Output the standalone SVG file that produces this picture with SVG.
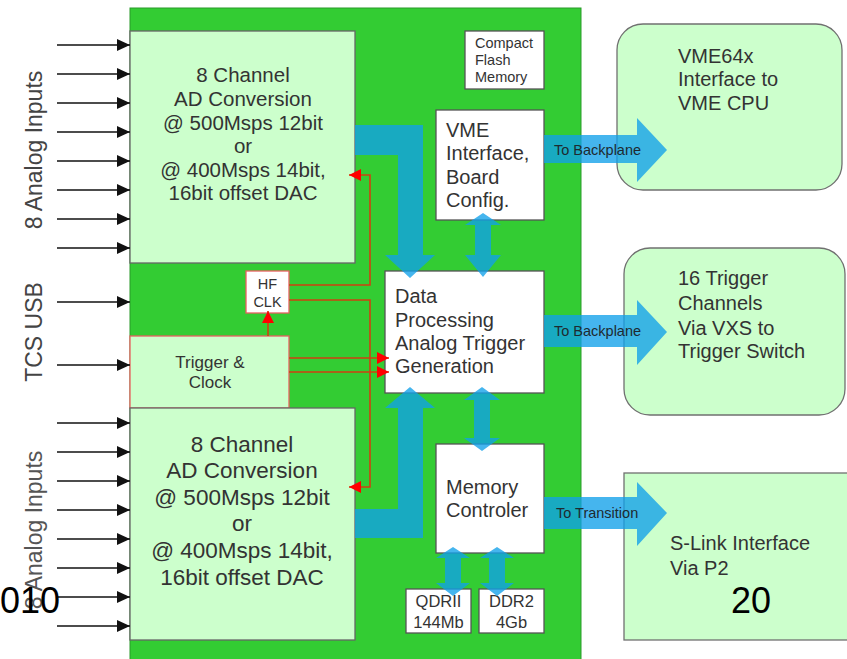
<svg xmlns="http://www.w3.org/2000/svg" width="847" height="659" viewBox="0 0 847 659">
<style>
text{font-family:"Liberation Sans",Arial,sans-serif;fill:#333}
.lg{fill:#ccffcc;stroke:#666;stroke-width:1.3}
.wb{fill:#fff;stroke:#555;stroke-width:1.3}
.rb{stroke:#e86060;stroke-width:1.3}
.t20{font-size:20px}
.t205{font-size:20.5px}
.t22{font-size:22.5px}
.c{text-anchor:middle}
.side{font-size:23px;fill:#444;text-anchor:middle}
.big{font-size:36px;fill:#000}
.blue{fill:rgb(17,160,233);fill-opacity:0.78}
.lbl{font-size:14.5px;fill:#1e2a30}
.in line{stroke:#111;stroke-width:1.6;marker-end:url(#ah)}
.red{stroke:#d04010;stroke-width:1.6;fill:none;marker-end:url(#rh)}
</style>
<defs>
<marker id="ah" markerUnits="userSpaceOnUse" markerWidth="14" markerHeight="12" refX="13" refY="6" orient="auto"><path d="M0,0 L13,6 L0,12 Z" fill="#111"/></marker>
<marker id="rh" markerUnits="userSpaceOnUse" markerWidth="13" markerHeight="12" refX="12" refY="6" orient="auto"><path d="M0,0 L12,6 L0,12 Z" fill="#ff0000"/></marker>
</defs>
<rect width="847" height="659" fill="#fff"/>
<g id="board"><rect x="130" y="8" width="451" height="660" fill="#33cc33" stroke="#2a9a2a" stroke-width="1"/></g>
<g id="labels">
<text class="side" transform="translate(42,150) rotate(-90)">8 Analog Inputs</text>
<text class="side" transform="translate(42,332) rotate(-90)">TCS USB</text>
<text class="side" transform="translate(42,530) rotate(-90)" style="fill:#555">8 Analog Inputs</text>
</g>
<g id="adc-top"><rect class="lg" x="130" y="31" width="225" height="232"/>
<text class="t205 c" x="243" y="82">8 Channel</text>
<text class="t205 c" x="243" y="106">AD Conversion</text>
<text class="t205 c" x="243" y="130">@ 500Msps 12bit</text>
<text class="t205 c" x="243" y="153">or</text>
<text class="t205 c" x="243" y="177">@ 400Msps 14bit,</text>
<text class="t205 c" x="243" y="200">16bit offset DAC</text></g>
<g id="hfclk"><rect class="rb" x="246" y="271" width="43" height="42" fill="#fff"/>
<text class="c" x="267.5" y="289" font-size="14.5">HF</text>
<text class="c" x="267.5" y="307" font-size="14.5">CLK</text></g>
<g id="trigger"><rect class="rb" x="130" y="336" width="159" height="72" fill="#ccffcc"/>
<text class="c" x="210" y="368" font-size="17">Trigger &amp;</text>
<text class="c" x="210" y="388" font-size="17">Clock</text></g>
<g id="adc-bottom"><rect class="lg" x="130" y="408" width="225" height="232"/>
<text class="t22 c" x="242" y="452">8 Channel</text>
<text class="t22 c" x="242" y="478">AD Conversion</text>
<text class="t22 c" x="242" y="505">@ 500Msps 12bit</text>
<text class="t22 c" x="242" y="531">or</text>
<text class="t22 c" x="242" y="558">@ 400Msps 14bit,</text>
<text class="t22 c" x="242" y="585">16bit offset DAC</text></g>
<g id="flash"><rect class="wb" x="465" y="31" width="79" height="58"/>
<text x="475" y="48" font-size="14.5">Compact</text>
<text x="475" y="65" font-size="14.5">Flash</text>
<text x="475" y="82" font-size="14.5">Memory</text></g>
<g id="vme"><rect class="wb" x="436" y="110" width="108" height="110"/>
<text class="t20" x="446" y="137">VME</text>
<text class="t20" x="446" y="160">Interface,</text>
<text class="t20" x="446" y="184">Board</text>
<text class="t20" x="446" y="207">Config.</text></g>
<g id="dataproc"><rect class="wb" x="385" y="271" width="159" height="122"/>
<text class="t20" x="395" y="303">Data</text>
<text class="t20" x="395" y="327">Processing</text>
<text class="t20" x="395" y="350">Analog Trigger</text>
<text class="t20" x="395" y="373">Generation</text></g>
<g id="memctl"><rect class="wb" x="436" y="444" width="108" height="109"/>
<text class="t20" x="446" y="494">Memory</text>
<text class="t20" x="446" y="517">Controler</text></g>
<g id="qdr"><rect class="wb" x="406" y="589" width="65" height="44"/>
<text class="c" x="438.5" y="607" font-size="16.5">QDRII</text>
<text class="c" x="438.5" y="628" font-size="16.5">144Mb</text></g>
<g id="ddr"><rect class="wb" x="479" y="589" width="65" height="44"/>
<text class="c" x="511.5" y="607" font-size="16.5">DDR2</text>
<text class="c" x="511.5" y="628" font-size="16.5">4Gb</text></g>
<g id="vme64"><rect class="lg" x="617" y="24" width="225" height="166" rx="26" style="stroke:#707070"/>
<text class="t20" x="678" y="63">VME64x</text>
<text class="t20" x="678" y="86">Interface to</text>
<text class="t20" x="678" y="110">VME CPU</text></g>
<g id="trig16"><rect class="lg" x="624" y="248" width="221" height="167" rx="26" style="stroke:#707070"/>
<text class="t20" x="678" y="285">16 Trigger</text>
<text class="t20" x="678" y="310">Channels</text>
<text class="t20" x="678" y="335">Via VXS to</text>
<text class="t20" x="678" y="358">Trigger Switch</text></g>
<g id="slink"><rect class="lg" x="624" y="473" width="240" height="167" style="stroke:#707070"/>
<text class="t20" x="670" y="550">S-Link Interface</text>
<text class="t20" x="670" y="575">Via P2</text></g>
<g id="connectors">
<g class="in">
<line x1="57" y1="45" x2="130" y2="45"/><line x1="57" y1="74" x2="130" y2="74"/><line x1="57" y1="103" x2="130" y2="103"/><line x1="57" y1="132" x2="130" y2="132"/>
<line x1="57" y1="161" x2="130" y2="161"/><line x1="57" y1="190" x2="130" y2="190"/><line x1="57" y1="219" x2="130" y2="219"/><line x1="57" y1="248" x2="130" y2="248"/>
<line x1="57" y1="302" x2="130" y2="302"/><line x1="57" y1="365" x2="130" y2="365"/>
<line x1="57" y1="423" x2="130" y2="423"/><line x1="57" y1="452" x2="130" y2="452"/><line x1="57" y1="481" x2="130" y2="481"/><line x1="57" y1="510" x2="130" y2="510"/>
<line x1="57" y1="539" x2="130" y2="539"/><line x1="57" y1="568" x2="130" y2="568"/><line x1="57" y1="597" x2="130" y2="597"/><line x1="57" y1="626" x2="130" y2="626"/>
</g>
<path class="red" d="M289,285H370V175H349"/>
<path class="red" d="M289,300H370V487H349"/>
<path class="red" d="M289,358H389"/>
<path class="red" d="M289,372H389"/>
<path class="red" d="M268,336V311"/>
<polygon class="blue" points="355,125 423,125 423,255 435,255 410,278 385,255 398,255 398,155 355,155"/>
<polygon class="blue" points="355,509 398,509 398,408 385,408 410,387 435,408 423,408 423,538 355,538"/>
<polygon class="blue" points="483,213 501,225 491,225 491,255 501,255 483,277 465,255 475,255 475,225 465,225"/>
<polygon class="blue" points="482,387 500,400 490,400 490,438 500,438 482,451 464,438 474,438 474,400 464,400"/>
<polygon class="blue" points="453,547 470,558 461,558 461,583 470,583 453,596 436,583 445,583 445,558 436,558"/>
<polygon class="blue" points="497,547 514,558 505,558 505,583 514,583 497,596 480,583 489,583 489,558 480,558"/>
<polygon class="blue" points="544,135 637,135 637,118 667,150 637,182 637,163 544,163"/>
<polygon class="blue" points="544,315 637,315 637,300 667,332 637,365 637,347 544,347"/>
<polygon class="blue" points="544,497 637,497 637,482 667,513 637,546 637,529 544,529"/>
<text class="lbl" x="554" y="155">To Backplane</text>
<text class="lbl" x="554" y="336">To Backplane</text>
<text class="lbl" x="556" y="518">To Transition</text>
</g>
<g id="footer">
<text class="big" x="0" y="613">010</text>
<text class="big" x="731" y="613">20</text>
</g>
</svg>
